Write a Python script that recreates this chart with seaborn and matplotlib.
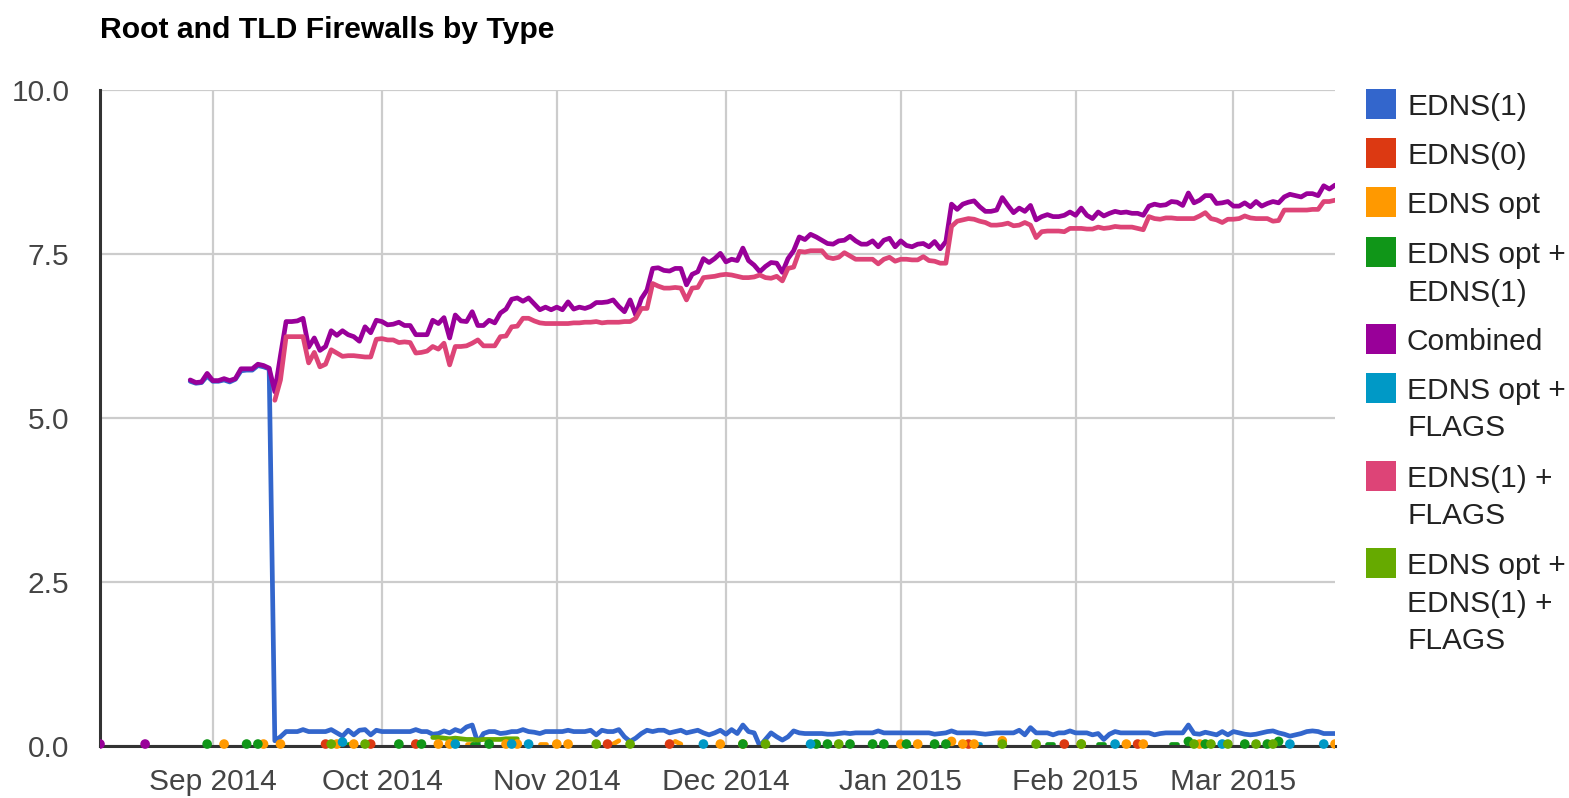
import matplotlib

matplotlib.use("Agg")
import matplotlib.dates as mdates
import numpy as np
import pandas as pd
import seaborn as sns
from matplotlib import pyplot as plt
from matplotlib.patches import Rectangle

sns.set_theme(style="white")
plt.rcParams["font.family"] = ["Liberation Sans", "DejaVu Sans"]

W, H = 1569, 798
FS = 21.5

NAMES = [
    "EDNS(1)",
    "EDNS(0)",
    "EDNS opt",
    "EDNS opt +\nEDNS(1)",
    "Combined",
    "EDNS opt +\nFLAGS",
    "EDNS(1) +\nFLAGS",
    "EDNS opt +\nEDNS(1) +\nFLAGS",
]
COLORS = ["#3366cc", "#dc3912", "#ff9900", "#109618", "#990099", "#0099c6", "#dd4477", "#66aa00"]

# daily series starting 2014-08-28
SERIES_START = "2014-08-28"
combined = [
    5.58, 5.54, 5.55, 5.68, 5.57, 5.57, 5.60, 5.57, 5.60, 5.75,
    5.75, 5.75, 5.82, 5.80, 5.76, 5.40, 5.95, 6.47, 6.47, 6.48,
    6.52, 6.08, 6.22, 6.03, 6.09, 6.33, 6.26, 6.33, 6.27, 6.24,
    6.17, 6.39, 6.30, 6.49, 6.47, 6.42, 6.43, 6.46, 6.41, 6.41,
    6.27, 6.27, 6.27, 6.49, 6.44, 6.53, 6.22, 6.57, 6.48, 6.47,
    6.62, 6.41, 6.41, 6.49, 6.45, 6.60, 6.66, 6.81, 6.83, 6.78,
    6.83, 6.74, 6.65, 6.69, 6.65, 6.69, 6.65, 6.77, 6.66, 6.69,
    6.67, 6.70, 6.76, 6.76, 6.77, 6.80, 6.70, 6.62, 6.80, 6.57,
    6.82, 6.95, 7.28, 7.29, 7.25, 7.24, 7.28, 7.28, 7.03, 7.19,
    7.23, 7.43, 7.37, 7.43, 7.51, 7.38, 7.42, 7.40, 7.59, 7.40,
    7.33, 7.23, 7.31, 7.37, 7.36, 7.22, 7.43, 7.55, 7.76, 7.72,
    7.80, 7.76, 7.71, 7.66, 7.65, 7.70, 7.71, 7.77, 7.70, 7.65,
    7.65, 7.70, 7.61, 7.71, 7.74, 7.61, 7.70, 7.63, 7.61, 7.65,
    7.66, 7.61, 7.69, 7.58, 7.69, 8.26, 8.18, 8.26, 8.29, 8.31,
    8.22, 8.15, 8.15, 8.17, 8.36, 8.24, 8.13, 8.20, 8.15, 8.24,
    8.02, 8.07, 8.10, 8.07, 8.07, 8.09, 8.14, 8.09, 8.20, 8.09,
    8.04, 8.14, 8.08, 8.12, 8.15, 8.13, 8.14, 8.12, 8.12, 8.09,
    8.23, 8.26, 8.24, 8.25, 8.30, 8.29, 8.24, 8.43, 8.28, 8.32,
    8.39, 8.39, 8.27, 8.28, 8.30, 8.23, 8.23, 8.28, 8.22, 8.30,
    8.23, 8.27, 8.30, 8.28, 8.37, 8.41, 8.39, 8.37, 8.42, 8.42,
    8.39, 8.54, 8.49, 8.55,
]
edns1 = [
    5.56, 5.53, 5.54, 5.64, 5.56, 5.56, 5.58, 5.55, 5.59, 5.72,
    5.73, 5.73, 5.80, 5.78, 5.75, 0.08, 0.14, 0.22, 0.22, 0.22,
    0.25, 0.22, 0.22, 0.22, 0.22, 0.25, 0.20, 0.15, 0.24, 0.17,
    0.24, 0.25, 0.17, 0.24, 0.22, 0.22, 0.22, 0.22, 0.22, 0.22,
    0.25, 0.22, 0.22, 0.18, 0.19, 0.23, 0.20, 0.25, 0.22, 0.29,
    0.32, 0.05, 0.19, 0.22, 0.22, 0.19, 0.20, 0.22, 0.22, 0.25,
    0.22, 0.21, 0.19, 0.22, 0.22, 0.22, 0.22, 0.24, 0.22, 0.22,
    0.22, 0.24, 0.17, 0.24, 0.22, 0.22, 0.25, 0.14, 0.07, 0.12,
    0.19, 0.24, 0.22, 0.24, 0.24, 0.20, 0.22, 0.24, 0.20, 0.22,
    0.24, 0.20, 0.17, 0.20, 0.24, 0.18, 0.25, 0.19, 0.32, 0.22,
    0.20, 0.00, 0.10, 0.20, 0.14, 0.09, 0.14, 0.23, 0.20, 0.19,
    0.19, 0.19, 0.19, 0.18, 0.18, 0.19, 0.20, 0.19, 0.20, 0.20,
    0.20, 0.20, 0.23, 0.20, 0.20, 0.20, 0.20, 0.20, 0.20, 0.20,
    0.20, 0.20, 0.18, 0.19, 0.20, 0.23, 0.20, 0.20, 0.20, 0.20,
    0.19, 0.18, 0.19, 0.20, 0.20, 0.20, 0.20, 0.24, 0.17, 0.28,
    0.20, 0.20, 0.20, 0.17, 0.20, 0.20, 0.23, 0.20, 0.20, 0.20,
    0.17, 0.19, 0.10, 0.18, 0.22, 0.20, 0.20, 0.20, 0.20, 0.20,
    0.20, 0.17, 0.19, 0.20, 0.20, 0.20, 0.20, 0.32, 0.19, 0.18,
    0.21, 0.19, 0.17, 0.22, 0.17, 0.22, 0.20, 0.18, 0.17, 0.18,
    0.20, 0.22, 0.23, 0.20, 0.18, 0.15, 0.17, 0.19, 0.22, 0.23,
    0.22, 0.19, 0.19, 0.19,
]

# EDNS(1) + FLAGS starts later
FLAGS1_START = "2014-09-12"
edns1_flags = [
    5.27, 5.58, 6.24, 6.24, 6.24,
    6.24, 5.84, 6.00, 5.78, 5.82, 6.04, 5.99, 5.94, 5.95, 5.95,
    5.94, 5.93, 5.93, 6.20, 6.21, 6.19, 6.19, 6.15, 6.16, 6.15,
    5.99, 6.00, 6.02, 6.09, 6.05, 6.14, 5.81, 6.09, 6.09, 6.10,
    6.14, 6.19, 6.10, 6.10, 6.10, 6.24, 6.25, 6.39, 6.40, 6.52,
    6.52, 6.48, 6.45, 6.44, 6.44, 6.44, 6.44, 6.44, 6.45, 6.45,
    6.46, 6.46, 6.47, 6.45, 6.46, 6.46, 6.46, 6.47, 6.47, 6.52,
    6.67, 6.67, 7.05, 7.01, 6.98, 6.98, 6.99, 6.98, 6.80, 6.98,
    6.99, 7.14, 7.15, 7.16, 7.18, 7.19, 7.18, 7.16, 7.14, 7.14,
    7.15, 7.18, 7.14, 7.13, 7.16, 7.09, 7.28, 7.30, 7.54, 7.53,
    7.55, 7.55, 7.55, 7.45, 7.43, 7.45, 7.52, 7.47, 7.42, 7.42,
    7.42, 7.42, 7.35, 7.42, 7.45, 7.39, 7.42, 7.42, 7.41, 7.41,
    7.46, 7.40, 7.39, 7.36, 7.36, 7.92, 8.00, 8.02, 8.04, 8.03,
    8.00, 7.98, 7.94, 7.94, 7.95, 7.97, 7.93, 7.94, 7.98, 7.94,
    7.75, 7.84, 7.85, 7.85, 7.85, 7.84, 7.89, 7.89, 7.89, 7.88,
    7.88, 7.91, 7.89, 7.90, 7.92, 7.91, 7.91, 7.91, 7.89, 7.87,
    8.07, 8.04, 8.03, 8.05, 8.05, 8.04, 8.04, 8.04, 8.04, 8.08,
    8.13, 8.04, 8.02, 7.98, 8.03, 8.03, 8.04, 8.08, 8.05, 8.04,
    8.04, 8.04, 8.00, 8.01, 8.17, 8.17, 8.17, 8.17, 8.17, 8.18,
    8.18, 8.30, 8.30, 8.32,
]

# sparse series (isolated days near zero)
combined_early_dates = ["2014-08-12", "2014-08-20"]
combined_early = [0.03, 0.03]

edns0_dates = ["2014-09-21", "2014-09-29", "2014-10-07", "2014-11-10", "2014-11-21",
               "2015-01-13", "2015-01-30", "2015-02-12"]
edns0 = [0.03] * len(edns0_dates)

opt_dates = ["2014-09-03", "2014-09-10", "2014-09-13", "2014-09-23", "2014-09-26",
             "2014-10-11", "2014-10-13", "2014-10-16", "2014-10-17", "2014-10-23",
             "2014-10-25", "2014-10-29", "2014-10-30", "2014-11-01", "2014-11-03",
             "2014-11-11", "2014-11-12", "2014-11-22", "2014-11-23", "2014-11-30",
             "2014-12-04", "2015-01-01", "2015-01-04", "2015-01-10", "2015-01-12",
             "2015-01-14", "2015-01-19", "2015-02-02", "2015-02-10", "2015-02-13",
             "2015-02-23", "2015-03-19"]
opt = [0.03, 0.03, 0.03, 0.03, 0.03, 0.03, 0.03, 0.03, 0.03, 0.03,
       0.03, 0.03, 0.03, 0.03, 0.03, 0.03, 0.08, 0.07, 0.03, 0.03,
       0.03, 0.03, 0.03, 0.07, 0.03, 0.03, 0.08, 0.03, 0.03, 0.03,
       0.03, 0.03]

opt_edns1_dates = ["2014-08-31", "2014-09-07", "2014-09-09", "2014-09-25", "2014-09-26",
                   "2014-10-04", "2014-10-08", "2014-10-17", "2014-10-18", "2014-10-20",
                   "2014-12-04", "2014-12-17", "2014-12-19", "2014-12-23", "2014-12-27",
                   "2014-12-29", "2015-01-02", "2015-01-07", "2015-01-09", "2015-01-27",
                   "2015-01-28", "2015-02-05", "2015-02-06", "2015-02-18", "2015-02-19",
                   "2015-02-21", "2015-02-24", "2015-03-03", "2015-03-07", "2015-03-09"]
opt_edns1 = [0.03, 0.03, 0.03, 0.03, 0.03, 0.03, 0.03, 0.03, 0.03, 0.03,
             0.03, 0.03, 0.03, 0.03, 0.03, 0.03, 0.03, 0.03, 0.03, 0.03,
             0.03, 0.03, 0.03, 0.03, 0.03, 0.07, 0.03, 0.03, 0.03, 0.07]

opt_flags_dates = ["2014-09-24", "2014-10-14", "2014-10-24", "2014-10-27", "2014-11-27",
                   "2014-12-16", "2015-01-14", "2015-01-15", "2015-02-08", "2015-02-27",
                   "2015-03-11", "2015-03-17"]
opt_flags = [0.06, 0.03, 0.03, 0.03, 0.03, 0.03, 0.03, 0.03, 0.03, 0.03, 0.03, 0.03]

opt_edns1_flags_dates = ["2014-09-22", "2014-09-28",
                         "2014-10-10", "2014-10-11", "2014-10-12", "2014-10-13",
                         "2014-10-14", "2014-10-15", "2014-10-16", "2014-10-17",
                         "2014-10-18", "2014-10-19", "2014-10-20", "2014-10-21",
                         "2014-10-22", "2014-10-23", "2014-10-24", "2014-10-25",
                         "2014-11-08", "2014-11-14", "2014-12-08", "2014-12-21",
                         "2015-01-19", "2015-01-25", "2015-02-02", "2015-02-22",
                         "2015-02-25", "2015-02-28", "2015-03-05", "2015-03-08"]
opt_edns1_flags = [0.03, 0.03,
                   0.13, 0.13, 0.12, 0.11, 0.12, 0.11, 0.10, 0.10,
                   0.09, 0.10, 0.10, 0.10, 0.10, 0.11, 0.11, 0.11,
                   0.03, 0.03, 0.03, 0.03, 0.03, 0.03, 0.03, 0.03,
                   0.03, 0.03, 0.03, 0.03]

X_MIN, X_MAX = "2014-08-12", "2015-03-19"


def to_frame(name, dates, values):
    s = pd.Series(values, index=pd.to_datetime(dates)).sort_index()
    full = s.reindex(pd.date_range(s.index.min(), s.index.max(), freq="D"))
    run = full.isna().cumsum()
    df = pd.DataFrame({"date": full.index, "value": full.values, "run": run.values})
    df = df.dropna(subset=["value"])
    df["series"] = name
    df["n"] = df.groupby("run")["value"].transform("size")
    return df


def daily(start, values):
    return pd.date_range(start, periods=len(values), freq="D")


frames = [
    to_frame(NAMES[0], daily(SERIES_START, edns1), edns1),
    to_frame(NAMES[1], edns0_dates, edns0),
    to_frame(NAMES[2], opt_dates, opt),
    to_frame(NAMES[3], opt_edns1_dates, opt_edns1),
    to_frame(NAMES[4], list(pd.to_datetime(combined_early_dates)) + list(daily(SERIES_START, combined)),
             combined_early + combined),
    to_frame(NAMES[5], opt_flags_dates, opt_flags),
    to_frame(NAMES[6], daily(FLAGS1_START, edns1_flags), edns1_flags),
    to_frame(NAMES[7], opt_edns1_flags_dates, opt_edns1_flags),
]
data = pd.concat(frames, ignore_index=True)
palette = dict(zip(NAMES, COLORS))

fig = plt.figure(figsize=(W / 100, H / 100), dpi=100)
ax = fig.add_axes([100 / W, 52 / H, 1235 / W, 656 / H])

lines = data[data["n"] > 1]
dots = data[data["n"] == 1]
sns.lineplot(
    data=lines, x="date", y="value", hue="series", units="run", estimator=None,
    hue_order=[n for n in NAMES if n in set(lines["series"])], palette=palette,
    lw=3.4, legend=False, ax=ax,
)
sns.scatterplot(
    data=dots, x="date", y="value", hue="series", hue_order=[n for n in NAMES if n in set(dots["series"])],
    palette=palette, s=48, linewidth=0, legend=False, ax=ax, zorder=6,
)
# let the dots sit on top of the baseline, clipped only at the sides
clip = Rectangle((0, -0.03), 1, 1.03, transform=ax.transAxes)
for coll in ax.collections:
    coll.set_clip_path(clip)

ax.set_xlim(pd.Timestamp(X_MIN), pd.Timestamp(X_MAX))
ax.set_ylim(0, 10)
ax.set_yticks([0, 2.5, 5, 7.5, 10])
ax.set_yticklabels(["0.0", "2.5", "5.0", "7.5", "10.0"])
ax.xaxis.set_major_locator(mdates.MonthLocator())
ax.xaxis.set_major_formatter(mdates.DateFormatter("%b %Y"))
ax.set_xlabel("")
ax.set_ylabel("")
ax.grid(True, color="#cccccc", lw=1.6)
ax.set_axisbelow(True)
ax.tick_params(axis="both", length=0, labelsize=FS, labelcolor="#444444")
ax.tick_params(axis="x", pad=16)
ax.tick_params(axis="y", pad=22)
for side in ["top", "right"]:
    ax.spines[side].set_visible(False)
for side in ["left", "bottom"]:
    ax.spines[side].set_color("#333333")
    ax.spines[side].set_linewidth(2.2)
    ax.spines[side].set_zorder(5)

fig.text(100 / W, 1 - 38 / H, "Root and TLD Firewalls by Type", fontsize=21.7,
         fontweight="bold", color="#000000", va="baseline", ha="left")

# legend drawn like the google chart one: square + wrapped label
square_tops = [89, 138, 187, 237, 324, 373, 461, 548]
for name, color, top in zip(NAMES, COLORS, square_tops):
    fig.add_artist(Rectangle((1366 / W, 1 - (top + 30) / H), 30 / W, 30 / H,
                             transform=fig.transFigure, color=color, lw=0))
    for k, line in enumerate(name.split("\n")):
        fig.text(1407 / W, 1 - (top + 26 + 37.5 * k) / H, line, fontsize=FS,
                 color="#222222", va="baseline", ha="left")

fig.savefig("out.png", dpi=100)
